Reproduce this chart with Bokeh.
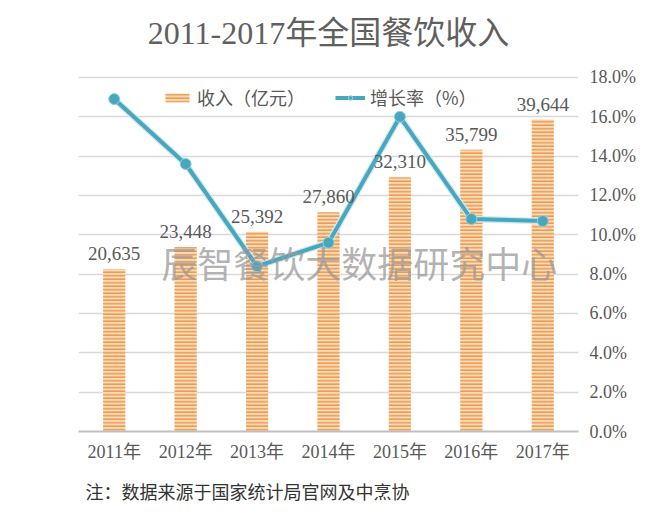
from bokeh.plotting import figure
from bokeh.models import (Range1d, FixedTicker, PrintfTickFormatter,
                          Legend, LegendItem, Label, Title, ColumnDataSource)
from bokeh.core.properties import value
from bokeh.embed import file_html
from bokeh.resources import INLINE

years = ["2011年", "2012年", "2013年", "2014年", "2015年", "2016年", "2017年"]
revenue = [20635, 23448, 25392, 27860, 32310, 35799, 39644]
growth = [16.9, 13.6, 8.4, 9.6, 16.0, 10.8, 10.7]
pct_ticks = [0, 2, 4, 6, 8, 10, 12, 14, 16, 18]

title_text = "2011-2017年全国餐饮收入"
note_text = "注：数据来源于国家统计局官网及中烹协"
watermark = "辰智餐饮大数据研究中心"

SERIF = "'Liberation Serif', 'Noto Sans CJK SC'"
CJK = "'Noto Sans CJK SC'"
GRAY = "#595959"
TEAL = "#48a7be"

# axis tops: the frame extends a little above the 18% grid line
PCT_TOP = 18.81
BAR_TOP = 45000 * PCT_TOP / 18

p = figure(width=650, height=514, x_range=years, y_range=Range1d(0, PCT_TOP),
           y_axis_location="right", output_backend="svg", toolbar_location=None,
           min_border_left=78, min_border_right=72, min_border_top=61,
           min_border_bottom=83)
p.extra_y_ranges = {"bars": Range1d(0, BAR_TOP)}
p.outline_line_color = None
p.background_fill_color = "white"
p.border_fill_color = "white"

# title
p.title.text = title_text
p.title.align = "center"
p.title.text_font = SERIF
p.title.text_font_size = "32px"
p.title.text_color = "#606060"
p.title.text_font_style = "normal"
p.title.standoff = 22

src = ColumnDataSource(dict(x=years, rev=revenue, g=growth,
                            lab=[f"{v:,}" for v in revenue]))

bars = p.vbar(x="x", top="rev", width=0.31, source=src, y_range_name="bars",
              fill_color="#fbdcba", line_color=None,
              hatch_pattern="horizontal_line", hatch_color="#ec9a4e",
              hatch_scale=3.5, hatch_weight=1.6)

halo = p.line(x="x", y="g", source=src, line_color="#cfe9ef", line_width=6.5)
ln = p.line(x="x", y="g", source=src, line_color=TEAL, line_width=4)
pts = p.scatter(x="x", y="g", source=src, size=11, fill_color=TEAL,
                line_color="#8fd0de", line_width=1)

p.text(x="x", y="rev", text="lab", source=src, y_range_name="bars",
       y_offset=-9, text_align="center", text_baseline="bottom",
       text_font=value("Liberation Serif"), text_font_size="19px",
       text_color=GRAY)

# axes
xa = p.xaxis[0]
xa.axis_line_color = "#bfbfbf"
xa.axis_line_width = 2
xa.major_tick_line_color = None
xa.minor_tick_line_color = None
xa.major_label_standoff = 4
xa.major_label_text_font = SERIF
xa.major_label_text_font_size = "18px"
xa.major_label_text_color = GRAY

ya = p.yaxis[0]
ya.ticker = FixedTicker(ticks=pct_ticks)
ya.formatter = PrintfTickFormatter(format="%.1f%%")
ya.axis_line_color = None
ya.major_tick_line_color = None
ya.minor_tick_line_color = None
ya.major_label_standoff = 5
ya.major_label_text_font = "Liberation Serif"
ya.major_label_text_font_size = "18px"
ya.major_label_text_color = GRAY

p.xgrid.grid_line_color = None
p.ygrid.ticker = FixedTicker(ticks=pct_ticks)
p.ygrid.grid_line_color = "#d9d9d9"
p.ygrid.grid_line_width = 1.5

# legend
legend = Legend(items=[LegendItem(label="收入（亿元）", renderers=[bars]),
                       LegendItem(label="增长率（%）", renderers=[ln, pts])],
                orientation="horizontal", location=(84, 321),
                padding=0, margin=0, spacing=30, label_standoff=5,
                glyph_width=30, glyph_height=11, label_height=22,
                label_text_font=CJK, label_text_font_size="18px",
                label_text_color=GRAY, background_fill_alpha=0,
                border_line_alpha=0)
p.add_layout(legend, "center")

# watermark
p.add_layout(Label(x=3.93, y=8.6, text=watermark, text_align="center",
                   text_baseline="middle", text_font=CJK,
                   text_font_size="36px", text_color="#9a9a9a",
                   text_alpha=0.75))

# footnote
note = Title(text=note_text, align="left", offset=7, standoff=22,
             text_font=CJK, text_font_size="18px", text_color="#333333",
             text_font_style="normal")
p.add_layout(note, "below")

open("out.html", "w").write(file_html(p, INLINE))
